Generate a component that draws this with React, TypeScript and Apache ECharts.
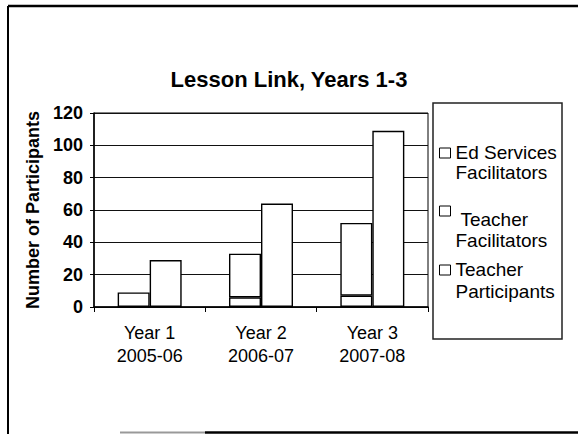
import React, { useEffect, useRef } from "react";
import * as echarts from "echarts";

const categories = ["Year 1\n2005-06", "Year 2\n2006-07", "Year 3\n2007-08"];
const edServicesFacilitators = [0, 6, 7];
const teacherFacilitators = [9, 27, 45];
const teacherParticipants = [29, 64, 109];
const yMin = 0;
const yMax = 120;
const yInterval = 20;

const FONT = "'Liberation Sans', Arial, Helvetica, sans-serif";

export default function App() {
  const ref = useRef<HTMLDivElement>(null);
  useEffect(() => {
    if (!ref.current) return;
    const chart = echarts.init(ref.current, null, { renderer: "svg" });
    const barStyle = { color: "#ffffff", borderColor: "#000000", borderWidth: 1.4 };
    const legendBase = {
      orient: "vertical",
      left: 439,
      padding: 0,
      itemWidth: 11,
      itemHeight: 10,
      icon: "rect",
      itemStyle: { color: "#ffffff", borderColor: "#000000", borderWidth: 1 },
      selectedMode: false,
    };
    const legendText = (spacer: number, lh: number) => ({
      fontFamily: FONT,
      fontSize: 19,
      color: "#000",
      rich: {
        s: { fontSize: 2, lineHeight: spacer, fontFamily: FONT },
        t: { fontSize: 19, lineHeight: lh, fontFamily: FONT, color: "#000" },
      },
    });
    chart.setOption({
      animation: false,
      backgroundColor: "#ffffff",
      textStyle: { fontFamily: FONT, color: "#000" },
      title: {
        text: "Lesson Link, Years 1-3",
        left: "center",
        top: 63,
        textStyle: { fontFamily: FONT, fontSize: 22, fontWeight: "bold", color: "#000" },
      },
      grid: {
        left: 94,
        right: 150,
        top: 113,
        bottom: 127,
        show: true,
        borderColor: "#000",
        borderWidth: 1,
        containLabel: false,
      },
      legend: [
        {
          ...legendBase,
          top: 132,
          data: ["Ed Services Facilitators"],
          formatter: () => "{s| }\n{t|Ed Services}\n{t|Facilitators}",
          textStyle: legendText(18, 20),
        },
        {
          ...legendBase,
          top: 189,
          data: ["Teacher Facilitators"],
          formatter: () => "{s| }\n{t| Teacher}\n{t|Facilitators}",
          textStyle: legendText(37, 21),
        },
        {
          ...legendBase,
          top: 247,
          data: ["Teacher Participants"],
          formatter: () => "{s| }\n{t|Teacher}\n{t|Participants}",
          textStyle: legendText(20, 22),
        },
      ],
      xAxis: {
        type: "category",
        data: categories,
        axisLine: { show: true, lineStyle: { color: "#000", width: 1.5 } },
        axisTick: { show: true, length: 5, lineStyle: { color: "#000" } },
        axisLabel: {
          fontFamily: FONT,
          fontSize: 18,
          lineHeight: 23,
          color: "#000",
          margin: 14,
        },
      },
      yAxis: {
        type: "value",
        min: yMin,
        max: yMax,
        interval: yInterval,
        name: "Number of Participants",
        nameLocation: "middle",
        nameGap: 52,
        nameTextStyle: { fontFamily: FONT, fontSize: 18, fontWeight: "bold", color: "#000" },
        axisLine: { show: true, lineStyle: { color: "#000", width: 1.5 } },
        axisTick: { show: true, length: 4, lineStyle: { color: "#000" } },
        axisLabel: { fontFamily: FONT, fontSize: 18, fontWeight: "bold", color: "#000", margin: 11 },
        splitLine: { show: true, lineStyle: { color: "#111", width: 1 } },
      },
      series: [
        {
          name: "Ed Services Facilitators",
          type: "bar",
          stack: "facilitators",
          data: edServicesFacilitators,
          barWidth: 32,
          barGap: "0%",
          itemStyle: barStyle,
        },
        {
          name: "Teacher Facilitators",
          type: "bar",
          stack: "facilitators",
          data: teacherFacilitators,
          barWidth: 32,
          barGap: "0%",
          itemStyle: barStyle,
        },
        {
          name: "Teacher Participants",
          type: "bar",
          data: teacherParticipants,
          barWidth: 32,
          barGap: "0%",
          itemStyle: barStyle,
        },
      ],
      graphic: [
        {
          type: "rect",
          shape: { x: 433, y: 103, width: 129, height: 236 },
          style: { fill: "none", stroke: "#222", lineWidth: 1.5 },
          silent: true,
        },
        {
          type: "line",
          shape: { x1: 8, y1: 6, x2: 578, y2: 6 },
          style: { stroke: "#000", lineWidth: 2.5 },
          silent: true,
        },
        {
          type: "line",
          shape: { x1: 8, y1: 6, x2: 8, y2: 434 },
          style: { stroke: "#000", lineWidth: 2 },
          silent: true,
        },
        {
          type: "line",
          shape: { x1: 120, y1: 432.5, x2: 205, y2: 432.5 },
          style: { stroke: "#999", lineWidth: 2 },
          silent: true,
        },
        {
          type: "line",
          shape: { x1: 205, y1: 432.5, x2: 578, y2: 432.5 },
          style: { stroke: "#000", lineWidth: 2.5 },
          silent: true,
        },
      ],
    });
    return () => chart.dispose();
  }, []);
  return (
    <div
      ref={ref}
      style={{ position: "fixed", left: 0, top: 0, width: 578, height: 434, background: "#fff" }}
    />
  );
}
